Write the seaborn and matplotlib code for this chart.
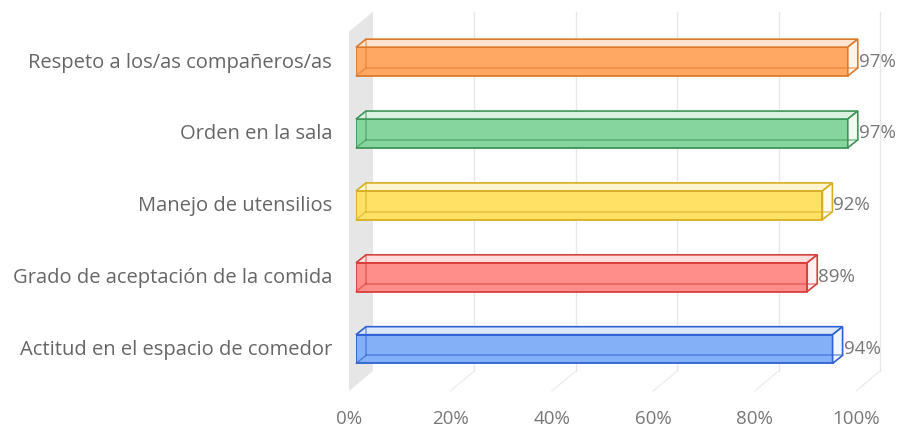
import numpy as np
import pandas as pd
import seaborn as sns
import matplotlib
matplotlib.use("Agg")
import matplotlib.pyplot as plt
from matplotlib.patches import Polygon
from matplotlib.lines import Line2D
from matplotlib.transforms import IdentityTransform
from matplotlib.colors import to_rgb

# ---- data -------------------------------------------------------------
categories = [
    "Respeto a los/as compañeros/as",
    "Orden en la sala",
    "Manejo de utensilios",
    "Grado de aceptación de la comida",
    "Actitud en el espacio de comedor",
]
values = [97, 97, 92, 89, 94]
tick_values = [0, 20, 40, 60, 80, 100]
tick_labels = ["0%", "20%", "40%", "60%", "80%", "100%"]
face_colors = ["#ffa864", "#86d59e", "#ffe166", "#ff8d89", "#83b0f7"]
edge_colors = ["#df7a2c", "#3d9558", "#d8ae24", "#d6403d", "#2f62d2"]

# ---- figure -------------------------------------------------------------
W, H, DPI = 897, 430, 100
sns.set_theme(style="white")
plt.rcParams["font.family"] = ["Open Sans", "DejaVu Sans"]

fig = plt.figure(figsize=(W / DPI, H / DPI), dpi=DPI)
fig.patch.set_facecolor("white")
ax = fig.add_axes([356 / W, (H - 385) / H, 507 / W, 359.4 / H])

df = pd.DataFrame({"categoria": categories, "valor": values})
sns.barplot(data=df, x="valor", y="categoria", hue="categoria",
            palette=face_colors, width=0.4, orient="h", legend=False,
            saturation=1, ax=ax)
ax.set_xlim(0, 100)
ax.set_ylim(4.5, -0.5)
ax.set_axis_off()

# 3D depth offsets in pixels (x right, y down), relative to the bar plane
BAR_D = (10, -8)
FRONT = (-7, 6)
BACK = (17, -14)

ident = IdentityTransform()


def disp(x, y, off=(0, 0)):
    p = ax.transData.transform((x, y))
    return (p[0] + off[0], p[1] - off[1])


def lighten(c, f):
    r, g, b = to_rgb(c)
    return (r + (1 - r) * f, g + (1 - g) * f, b + (1 - b) * f)


y_top, y_bot = -0.5, 4.5

# side wall at 0%
wall = Polygon([disp(0, y_top, FRONT), disp(0, y_top, BACK),
                disp(0, y_bot, BACK), disp(0, y_bot, FRONT)],
               closed=True, transform=ident, facecolor="#e6e6e6",
               edgecolor="none", zorder=0.5, clip_on=False)
ax.add_patch(wall)

# back-wall grid lines and floor lines
for t in tick_values[1:]:
    a = disp(t, y_top, BACK)
    b = disp(t, y_bot, BACK)
    c = disp(t, y_bot, FRONT)
    ax.add_line(Line2D([a[0], b[0]], [a[1], b[1]], transform=ident,
                       color="#e8e8e8", lw=1, zorder=0.4, clip_on=False))
    ax.add_line(Line2D([b[0], c[0]], [b[1], c[1]], transform=ident,
                       color="#eeeeee", lw=1, zorder=0.4, clip_on=False))

# bars as translucent boxes
bars = [p for p in ax.patches if p is not wall]
for bar, fc, ec in zip(bars, face_colors, edge_colors):
    x0, w = bar.get_x(), bar.get_width()
    y0, h = bar.get_y(), bar.get_height()
    ftl, ftr = disp(x0, y0), disp(x0 + w, y0)
    fbl, fbr = disp(x0, y0 + h), disp(x0 + w, y0 + h)
    btl, btr = disp(x0, y0, BAR_D), disp(x0 + w, y0, BAR_D)
    bbl, bbr = disp(x0, y0 + h, BAR_D), disp(x0 + w, y0 + h, BAR_D)

    bar.set_facecolor(fc)
    bar.set_edgecolor(ec)
    bar.set_linewidth(1.3)
    bar.set_zorder(3)

    ax.add_patch(Polygon([ftl, ftr, btr, btl], closed=True, transform=ident,
                         facecolor=lighten(fc, 0.7), edgecolor=ec, lw=1.2,
                         zorder=3, clip_on=False))
    ax.add_patch(Polygon([ftr, btr, bbr, fbr], closed=True, transform=ident,
                         facecolor=lighten(fc, 0.88), edgecolor=ec, lw=1.2,
                         zorder=3, clip_on=False))
    # hidden edges seen through the translucent front face
    for p, q in [(bbl, bbr), (btl, bbl), (fbl, bbl)]:
        ax.add_line(Line2D([p[0], q[0]], [p[1], q[1]], transform=ident,
                           color=ec, lw=1.1, alpha=0.6, zorder=3.5,
                           clip_on=False))

# value labels
for i, v in enumerate(values):
    ax.annotate(f"{v}%", xy=(v, i), xytext=(BAR_D[0] + 1, 0),
                textcoords="offset pixels", ha="left", va="center",
                fontsize=13.5, color="#777777", annotation_clip=False)

# category labels
for i, cat in enumerate(categories):
    ax.annotate(cat, xy=(0, i), xytext=(-24, -1),
                textcoords="offset pixels", ha="right", va="center",
                fontsize=14.5, color="#666666", annotation_clip=False)

# x tick labels on the front plane
for t, lbl in zip(tick_values, tick_labels):
    ax.annotate(lbl, xy=(t, y_bot), xytext=(FRONT[0], -34),
                textcoords="offset pixels", ha="center", va="center",
                fontsize=13.5, color="#777777", annotation_clip=False)

fig.savefig("out.png", dpi=DPI, facecolor="white")
